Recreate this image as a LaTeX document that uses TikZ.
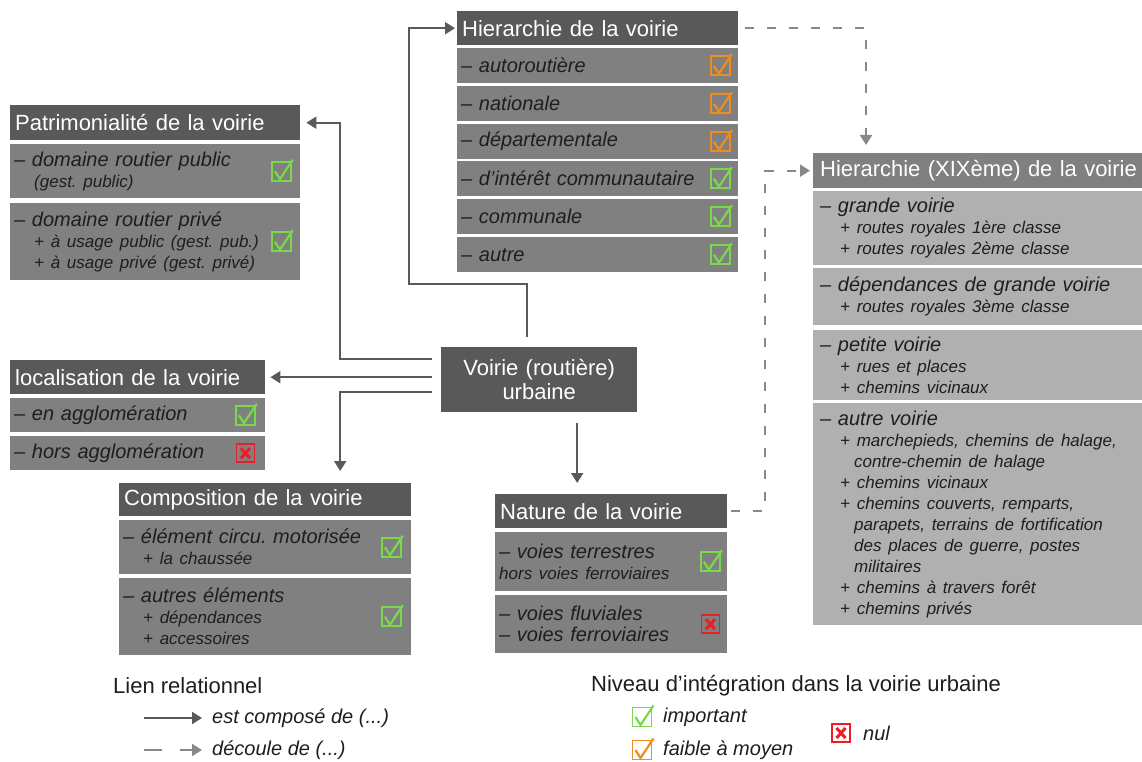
\documentclass[tikz,border=0pt]{standalone}
\usepackage{fontspec}
\setmainfont{Liberation Sans}
\usetikzlibrary{arrows.meta,positioning}
\frenchspacing

\definecolor{hdgray}{HTML}{595959}
\definecolor{cellgray}{HTML}{808080}
\definecolor{lightcell}{HTML}{B0B0B0}
\definecolor{txtgray}{HTML}{1E1E1E}
\definecolor{dashgray}{HTML}{888888}
\definecolor{ckgreen}{HTML}{7AD94A}
\definecolor{ckorange}{HTML}{EE8C1E}
\definecolor{ckred}{HTML}{EE1C24}

\newcommand{\hdfont}{\fontsize{22}{24}\selectfont}
\newcommand{\itemfont}{\fontsize{20}{21}\selectfont\itshape}
\newcommand{\subfont}{\fontsize{17}{21}\selectfont\itshape}
\newcommand{\ind}{\hspace*{20pt}}

\tikzset{
  hdr/.style={anchor=north west, fill=hdgray, text=white, font=\hdfont,
    inner xsep=5pt, inner ysep=0pt, align=left},
  cell/.style={anchor=north west, fill=cellgray, text=txtgray, font=\itemfont,
    inner xsep=4pt, inner ysep=0pt, align=left},
  oldhdr/.style={hdr, fill=cellgray, inner xsep=7pt},
  oldcell/.style={cell, fill=lightcell, inner xsep=7pt},
  link/.style={draw=hdgray, line width=2pt, -{Triangle[length=10pt,width=12pt]}},
  dlink/.style={draw=dashgray, line width=2pt, dash pattern=on 9pt off 13pt,
    -{Triangle[length=10pt,width=12pt]}},
  legtitle/.style={anchor=west, inner sep=0pt, text=txtgray, font=\hdfont},
  legitem/.style={anchor=west, inner sep=0pt, text=txtgray, font=\itemfont},
  pics/okbox/.style={code={
    \draw[#1, line width=1.8pt] (-9.5,-9.5) rectangle (9.5,9.5);
    \draw[#1, line width=2.2pt] (-6.5,0) -- (-1.5,8) -- (11.5,-11.5);
  }},
  pics/nobox/.style={code={
    \draw[ckred, line width=1.8pt] (-9,-9) rectangle (9,9);
    \draw[ckred, line width=3pt] (-4.5,-5) -- (4.5,5) (4.5,-5) -- (-4.5,5);
  }},
}

\begin{document}
\begin{tikzpicture}[x=1pt,y=-1pt]
  \useasboundingbox (0,0) rectangle (1142,762);

  % centre
  \node[hdr, align=center, text width=186pt, minimum height=65pt] (ctr) at (441,347)
    {Voirie (routière)\\urbaine};

  % patrimonialite
  \node[hdr, text width=280pt, minimum height=35pt] (pat) at (10,105) {Patrimonialité de la voirie};
  \node[cell, text width=282pt, minimum height=54pt] (pat1) at (10,144)
    {– domaine routier public\\{\subfont\ind (gest. public)}};
  \node[cell, text width=282pt, minimum height=77pt] (pat2) at (10,203)
    {– domaine routier privé\\{\subfont\ind + à usage public (gest. pub.)}\\{\subfont\ind + à usage privé (gest. privé)}};
  \pic at ([xshift=-19pt]pat1.east) {okbox=ckgreen};
  \pic at ([xshift=-19pt]pat2.east) {okbox=ckgreen};

  % hierarchie
  \node[hdr, text width=271pt, minimum height=34pt] (hier) at (457,11) {Hierarchie de la voirie};
  \node[cell, text width=273pt, minimum height=35pt] (hier1) at (457,48) {– autoroutière};
  \node[cell, text width=273pt, minimum height=35pt] (hier2) at (457,86) {– nationale};
  \node[cell, text width=273pt, minimum height=35pt] (hier3) at (457,124) {– départementale};
  \node[cell, text width=273pt, minimum height=35pt] (hier4) at (457,161) {– d’intérêt communautaire};
  \node[cell, text width=273pt, minimum height=35pt] (hier5) at (457,199) {– communale};
  \node[cell, text width=273pt, minimum height=35pt] (hier6) at (457,237) {– autre};
  \foreach \i/\c in {1/ckorange,2/ckorange,3/ckorange,4/ckgreen,5/ckgreen,6/ckgreen}
    \pic at ([xshift=-18pt]hier\i.east) {okbox=\c};

  % hierarchie XIXeme
  \node[oldhdr, text width=325pt, minimum height=35pt] (xix) at (813,153) {Hierarchie (XIXème) de la voirie};
  \node[oldcell, text width=325pt, minimum height=74pt] (xix1) at (813,191)
    {– grande voirie\\{\subfont\ind + routes royales 1ère classe}\\{\subfont\ind + routes royales 2ème classe}};
  \node[oldcell, text width=325pt, minimum height=57pt] (xix2) at (813,268)
    {– dépendances de grande voirie\\{\subfont\ind + routes royales 3ème classe}};
  \node[oldcell, text width=325pt, minimum height=70pt] (xix3) at (813,330)
    {– petite voirie\\{\subfont\ind + rues et places}\\{\subfont\ind + chemins vicinaux}};
  \node[oldcell, text width=325pt, minimum height=222pt] (xix4) at (813,403)
    {– autre voirie\\
     {\subfont\ind + marchepieds, chemins de halage,}\\
     {\subfont\ind\hspace*{14pt}contre-chemin de halage}\\
     {\subfont\ind + chemins vicinaux}\\
     {\subfont\ind + chemins couverts, remparts,}\\
     {\subfont\ind\hspace*{14pt}parapets, terrains de fortification}\\
     {\subfont\ind\hspace*{14pt}des places de guerre, postes}\\
     {\subfont\ind\hspace*{14pt}militaires}\\
     {\subfont\ind + chemins à travers forêt}\\
     {\subfont\ind + chemins privés}};

  % localisation
  \node[hdr, text width=245pt, minimum height=34pt] (loc) at (10,360) {localisation de la voirie};
  \node[cell, text width=247pt, minimum height=34pt] (loc1) at (10,398) {– en agglomération};
  \node[cell, text width=247pt, minimum height=34pt] (loc2) at (10,436) {– hors agglomération};
  \pic at ([xshift=-20pt]loc1.east) {okbox=ckgreen};
  \pic at ([xshift=-20pt]loc2.east) {nobox};

  % composition
  \node[hdr, text width=282pt, minimum height=33pt] (comp) at (119,483) {Composition de la voirie};
  \node[cell, text width=284pt, minimum height=54pt] (comp1) at (119,520)
    {– élément circu. motorisée\\{\subfont\ind + la chaussée}};
  \node[cell, text width=284pt, minimum height=77pt] (comp2) at (119,578)
    {– autres éléments\\{\subfont\ind + dépendances}\\{\subfont\ind + accessoires}};
  \pic at ([xshift=-20pt]comp1.east) {okbox=ckgreen};
  \pic at ([xshift=-20pt]comp2.east) {okbox=ckgreen};

  % nature
  \node[hdr, text width=222pt, minimum height=34pt] (nat) at (495,494) {Nature de la voirie};
  \node[cell, text width=224pt, minimum height=59pt] (nat1) at (495,532)
    {– voies terrestres\\{\subfont hors voies ferroviaires}};
  \node[cell, text width=224pt, minimum height=58pt] (nat2) at (495,595)
    {– voies fluviales\\– voies ferroviaires};
  \pic at ([xshift=-17pt]nat1.east) {okbox=ckgreen};
  \pic at ([xshift=-17pt]nat2.east) {nobox};

  % liens
  \coordinate (cw) at ([xshift=-9pt]ctr.west);
  \coordinate (cs) at ([xshift=38pt]ctr.south);
  \draw[link, shorten >=2pt] ([xshift=-12pt,yshift=10pt]ctr.north) -- ++(0,-53)
    -| ([xshift=-48pt]hier.west) -- (hier.west);
  \draw[link, shorten >=6pt] ([yshift=20.5pt]cw) -| ([xshift=40pt]pat.east) -- (pat.east);
  \draw[link, shorten >=5pt] (cw |- loc.east) -- (loc.east);
  \draw[link, shorten >=12pt] ([yshift=-12.5pt]cw) -| ([xshift=75pt]comp.north);
  \draw[link, shorten >=11pt] ([yshift=-11pt]cs) -- (cs |- nat.north);
  \draw[dlink, shorten >=8pt] ([xshift=7pt]hier.east) -| ([xshift=53pt]xix.north west);
  \draw[dlink, shorten >=3pt] ([xshift=4pt]nat.east) -- ++(34,0) |- (xix.west);

  % legende
  \node[legtitle] (lien) at (113,686) {Lien relationnel};
  \node[legitem] (est) at (212,718) {est composé de (...)};
  \node[legitem] (dec) at (212,750) {découle de (...)};
  \coordinate (l1) at (144,718);
  \coordinate (l2) at (144,750);
  \draw[link, shorten >=10pt] (l1) -- (est.west);
  \draw[dlink, dash pattern=on 18pt off 18pt, shorten >=10pt] (l2) -- (dec.west);

  \node[legtitle] (niv) at (591,686) {Niveau d’intégration dans la voirie urbaine};
  \node[legitem] (imp) at (663,717) {important};
  \node[legitem] (fai) at (663,750) {faible à moyen};
  \node[legitem] (nul) at (863,733) {nul};
  \pic at ([xshift=-21pt]imp.west) {okbox=ckgreen};
  \pic at ([xshift=-21pt]fai.west) {okbox=ckorange};
  \pic at ([xshift=-22pt]nul.west) {nobox};
\end{tikzpicture}
\end{document}
